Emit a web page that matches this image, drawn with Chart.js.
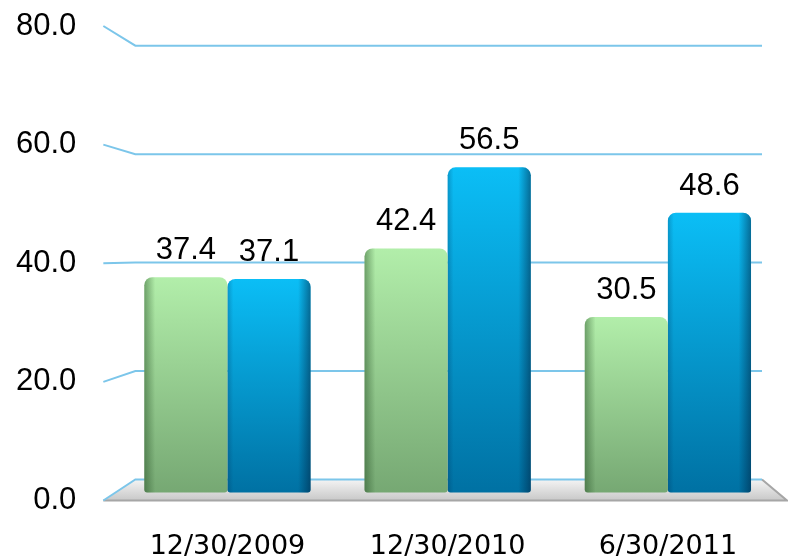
<!DOCTYPE html>
<html>
<head>
<meta charset="utf-8">
<script src="https://cdn.jsdelivr.net/npm/chart.js@4.4.1/dist/chart.umd.min.js"></script>
<style>
  html, body { margin: 0; padding: 0; background: #fff; }
  #wrap { width: 788px; height: 560px; }
</style>
</head>
<body>
<div id="wrap"><canvas id="bar-chart"></canvas></div>
<script>
const categories = ["12/30/2009", "12/30/2010", "6/30/2011"];
const seriesGreen = [37.4, 42.4, 30.5];
const seriesBlue = [37.1, 56.5, 48.6];
const tickValues = [0, 20, 40, 60, 80];

// the "3D" box: front edge, back wall and bar plane use slightly different scales
const frontRange = [0, 81.01];
const backRange = [-3.877, 84.74];
const barRange = [-1.39, 82.09];

const gridBlue = '#7cc6ea';

function barFill(top, bottom) {
    return function (context) {
        const chart = context.chart;
        if (!chart.chartArea) return bottom;
        const y = chart.scales.y;
        const g = chart.ctx.createLinearGradient(0, y.getPixelForValue(context.raw), 0, y.getPixelForValue(0));
        g.addColorStop(0, top);
        g.addColorStop(1, bottom);
        return g;
    };
}

// labels sit well away from the plot: count the tick padding once and
// don't let the label overhang shrink the plot
function trimAxis(axis) {
    const pad = axis.options.ticks.padding;
    if (axis.isHorizontal()) axis.height -= pad;
    else axis.width -= pad;
    axis.paddingTop = 0;
    axis.paddingBottom = 0;
    axis.paddingLeft = 0;
    axis.paddingRight = 0;
}

// floor and perspective gridlines
const wallPlugin = {
    id: 'walls',
    beforeDatasetsDraw(chart) {
        const { ctx, chartArea: a, scales } = chart;
        const front = scales.yl, back = scales.yb;
        const xFront = a.left - 14, xBack = a.left + 18;
        const xBackRight = a.right - 16, xFrontRight = a.right + 9;
        const yf = front.getPixelForValue(0), yb = back.getPixelForValue(0);

        ctx.save();
        const g = ctx.createLinearGradient(0, yb, 0, yf);
        g.addColorStop(0, '#f4f4f4');
        g.addColorStop(1, '#c8c8c8');
        ctx.beginPath();
        ctx.moveTo(xFront, yf);
        ctx.lineTo(xBack, yb);
        ctx.lineTo(xBackRight, yb);
        ctx.lineTo(xFrontRight, yf);
        ctx.closePath();
        ctx.fillStyle = g;
        ctx.fill();

        ctx.strokeStyle = '#a6a6a6';
        ctx.lineWidth = 2;
        ctx.beginPath();
        ctx.moveTo(xFront, yf);
        ctx.lineTo(xFrontRight, yf);
        ctx.lineTo(xBackRight, yb);
        ctx.stroke();

        ctx.strokeStyle = gridBlue;
        ctx.lineWidth = 2;
        tickValues.forEach(v => {
            ctx.beginPath();
            ctx.moveTo(xFront, front.getPixelForValue(v));
            ctx.lineTo(xBack, back.getPixelForValue(v));
            ctx.lineTo(xBackRight, back.getPixelForValue(v));
            ctx.stroke();
        });
        ctx.restore();
    }
};

// side shading on the bars and the value labels above them
const barTopPlugin = {
    id: 'barTop',
    afterDatasetsDraw(chart) {
        const ctx = chart.ctx;
        const shades = [
            [[0, 'rgba(30,70,30,0.45)'], [0.13, 'rgba(30,70,30,0)'], [1, 'rgba(30,70,30,0)']],
            [[0, 'rgba(0,40,80,0.25)'], [0.07, 'rgba(0,40,80,0)'], [0.85, 'rgba(0,30,60,0)'], [1, 'rgba(0,30,60,0.5)']]
        ];
        chart.data.datasets.forEach((ds, i) => {
            chart.getDatasetMeta(i).data.forEach((bar, j) => {
                const p = bar.getProps(['x', 'y', 'base', 'width'], true);
                const left = p.x - p.width / 2;
                const g = ctx.createLinearGradient(left, 0, left + p.width, 0);
                shades[i].forEach(s => g.addColorStop(s[0], s[1]));
                ctx.save();
                ctx.beginPath();
                ctx.roundRect(left, p.y, p.width, p.base - p.y, [8, 8, 3, 3]);
                ctx.fillStyle = g;
                ctx.fill();
                ctx.restore();

                ctx.save();
                ctx.font = '31px "Liberation Sans", Arial, sans-serif';
                ctx.fillStyle = '#000';
                ctx.textAlign = 'center';
                ctx.textBaseline = 'alphabetic';
                ctx.fillText(ds.data[j].toFixed(1), p.x, p.y - 18);
                ctx.restore();
            });
        });
    }
};

new Chart(document.getElementById("bar-chart"), {
    type: 'bar',
    data: {
        labels: categories,
        datasets: [
            {
                label: "Series 1",
                data: seriesGreen,
                backgroundColor: barFill('#b2eeaa', '#76a873'),
                yAxisID: 'y'
            },
            {
                label: "Series 2",
                data: seriesBlue,
                backgroundColor: barFill('#0bbef6', '#0071a3'),
                yAxisID: 'y'
            }
        ]
    },
    options: {
        responsive: true,
        maintainAspectRatio: false,
        animation: false,
        categoryPercentage: 0.755,
        barPercentage: 1.0,
        borderRadius: { topLeft: 8, topRight: 8, bottomLeft: 3, bottomRight: 3 },
        borderSkipped: false,
        layout: { padding: { left: 16, right: 10, top: 20, bottom: 0 } },
        plugins: {
            legend: { display: false },
            tooltip: { enabled: false }
        },
        scales: {
            x: {
                grid: { display: false, drawTicks: false },
                border: { display: false },
                afterFit: trimAxis,
                ticks: {
                    padding: 32.5,
                    color: '#000',
                    font: { family: '"DejaVu Sans", sans-serif', size: 27, lineHeight: 1 }
                }
            },
            yl: {
                position: 'left',
                min: frontRange[0],
                max: frontRange[1],
                grid: { display: false, drawTicks: false },
                border: { display: false },
                afterBuildTicks: axis => { axis.ticks = tickValues.map(v => ({ value: v })); },
                afterFit: trimAxis,
                ticks: {
                    padding: 41,
                    color: '#000',
                    font: { family: '"Liberation Sans", Arial, sans-serif', size: 31 },
                    callback: v => Number(v).toFixed(1)
                }
            },
            yb: {
                display: false,
                min: backRange[0],
                max: backRange[1]
            },
            y: {
                display: false,
                min: barRange[0],
                max: barRange[1]
            }
        }
    },
    plugins: [wallPlugin, barTopPlugin]
});
</script>
</body>
</html>
